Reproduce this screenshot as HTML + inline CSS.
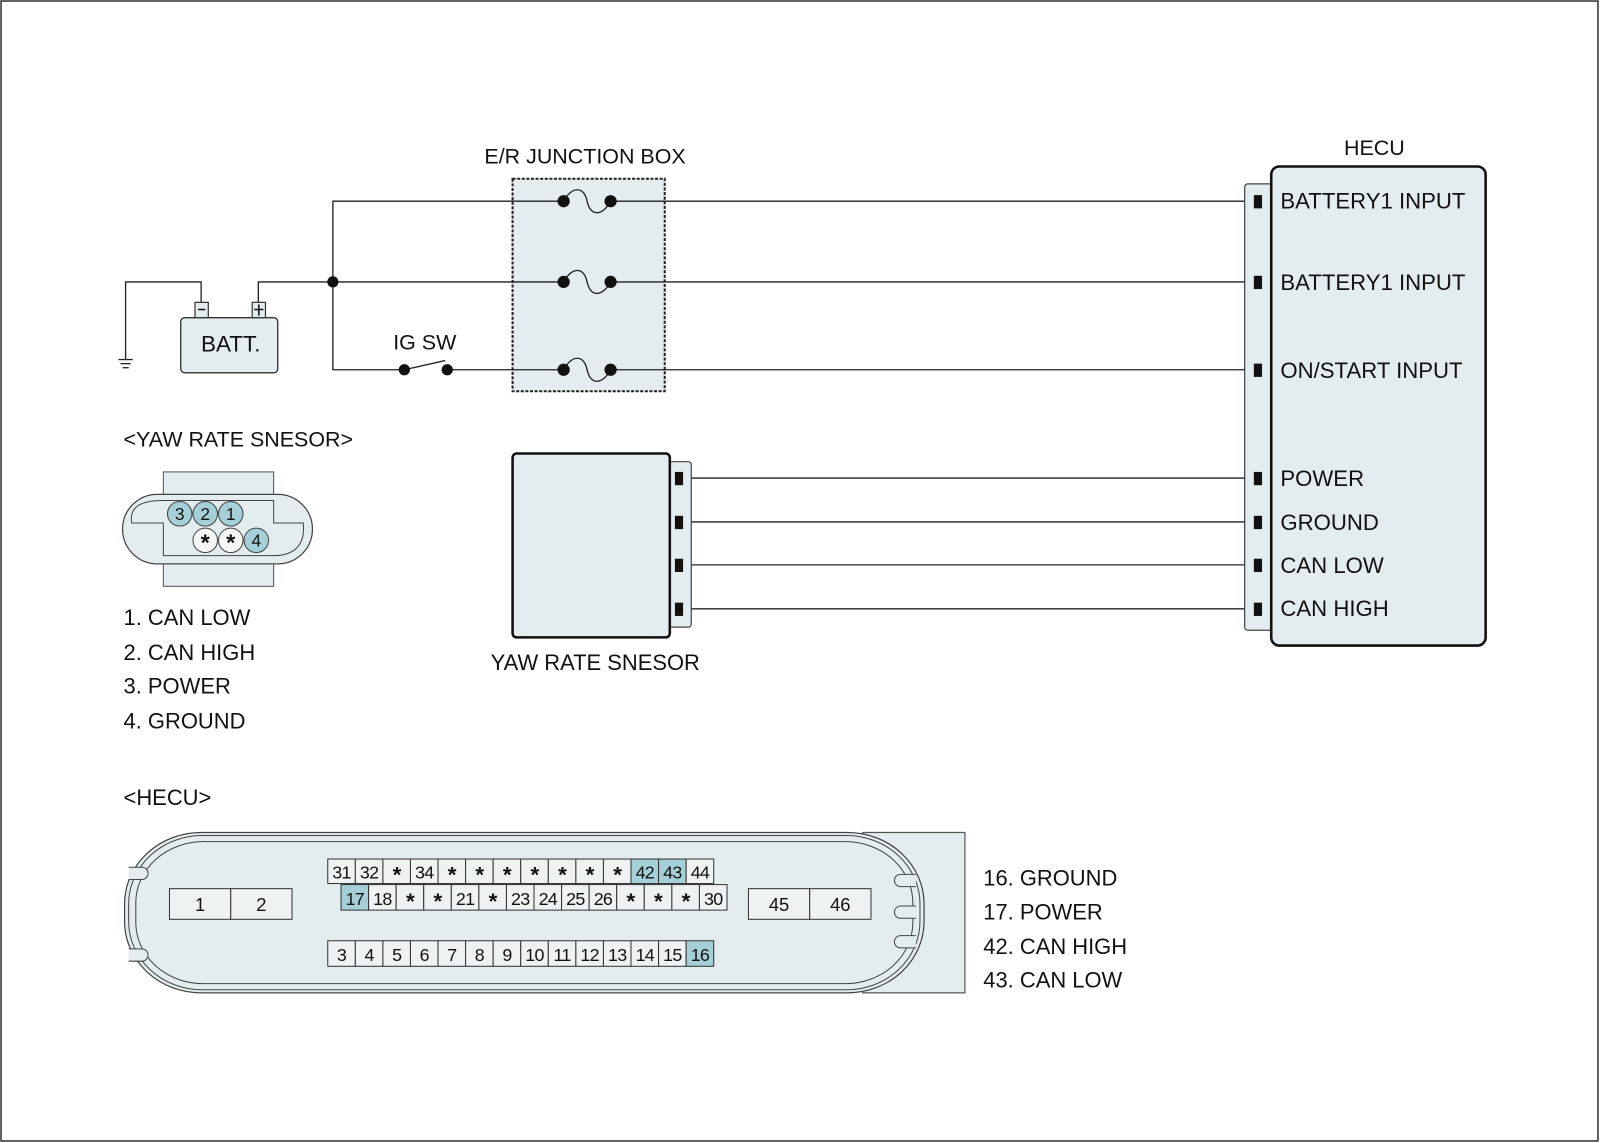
<!DOCTYPE html>
<html><head><meta charset="utf-8"><style>
html,body{margin:0;padding:0;background:#fff}
svg{display:block}
text{font-family:"Liberation Sans",Arial,sans-serif;fill:#111}
</style></head><body>
<svg width="1600" height="1143" viewBox="0 0 1567 1119" preserveAspectRatio="none" xmlns="http://www.w3.org/2000/svg">
<rect x="1" y="1" width="1564" height="1116" fill="#fff" stroke="#333" stroke-width="1.5"/>
<!-- junction box -->
<text x="573" y="160" font-size="21" text-anchor="middle">E/R JUNCTION BOX</text>
<rect x="502" y="175" width="149" height="208" fill="#e3ecee" stroke="#222" stroke-width="2" stroke-dasharray="3,1.5"/>
<g stroke="#222" stroke-width="1.3" fill="none">
<!-- wires -->
<polyline points="1232,197 598,197"/>
<polyline points="552,197 326,197 326,362 396,362"/>
<polyline points="253,296 253,276 552,276"/>
<polyline points="598,276 1232,276"/>
<polyline points="438,362 552,362"/>
<polyline points="598,362 1232,362"/>
<polyline points="197,296 197,276 123,276 123,352"/>
<line x1="116" y1="352" x2="130" y2="352"/>
<line x1="118" y1="356" x2="128" y2="356"/>
<line x1="120" y1="360" x2="126" y2="360"/>
<line x1="396" y1="362" x2="436" y2="353"/>
<line x1="669" y1="468" x2="1232" y2="468"/>
<line x1="669" y1="511" x2="1232" y2="511"/>
<line x1="669" y1="553" x2="1232" y2="553"/>
<line x1="669" y1="596" x2="1232" y2="596"/>
</g>
<!-- battery -->
<rect x="177" y="311" width="95" height="54" rx="4" fill="#e3ecee" stroke="#333" stroke-width="1.3"/>
<rect x="191" y="296" width="13" height="15" fill="#e3ecee" stroke="#333" stroke-width="1.2"/>
<rect x="247" y="296" width="13" height="15" fill="#e3ecee" stroke="#333" stroke-width="1.2"/>
<line x1="194" y1="303" x2="201" y2="303" stroke="#111" stroke-width="1.5"/>
<line x1="249" y1="303" x2="258" y2="303" stroke="#111" stroke-width="1.5"/>
<line x1="253.5" y1="298" x2="253.5" y2="309" stroke="#111" stroke-width="1.5"/>
<text x="226" y="344" font-size="22" text-anchor="middle">BATT.</text>
<circle cx="326" cy="276" r="5.5" fill="#111"/>
<circle cx="396" cy="362" r="5.5" fill="#111"/>
<circle cx="438" cy="362" r="5.5" fill="#111"/>
<text x="416" y="342" font-size="21" text-anchor="middle">IG SW</text>
<g fill="none" stroke="#222" stroke-width="1.3">
<path d="M552,197 C560,182 572,182 575,197 C578,212 590,212 598,197"/>
<path d="M552,276 C560,261 572,261 575,276 C578,291 590,291 598,276"/>
<path d="M552,362 C560,347 572,347 575,362 C578,377 590,377 598,362"/>
</g>
<g fill="#111">
<circle cx="552" cy="197" r="6"/><circle cx="598" cy="197" r="6"/>
<circle cx="552" cy="276" r="6"/><circle cx="598" cy="276" r="6"/>
<circle cx="552" cy="362" r="6"/><circle cx="598" cy="362" r="6"/>
</g>
<!-- HECU -->
<text x="1346" y="152" font-size="21" text-anchor="middle">HECU</text>
<rect x="1219" y="180" width="30" height="437" rx="3" fill="#e3ecee" stroke="#444" stroke-width="1.2"/>
<rect x="1245" y="163" width="210" height="469" rx="8" fill="#e3ecee" stroke="#111" stroke-width="2.5"/>
<g fill="#111">
<rect x="1228" y="191" width="8" height="13"/><rect x="1228" y="270" width="8" height="13"/>
<rect x="1228" y="356" width="8" height="13"/><rect x="1228" y="462" width="8" height="13"/>
<rect x="1228" y="505" width="8" height="13"/><rect x="1228" y="547" width="8" height="13"/>
<rect x="1228" y="590" width="8" height="13"/>
</g>
<g font-size="21.7">
<text x="1254" y="204">BATTERY1 INPUT</text>
<text x="1254" y="284">BATTERY1 INPUT</text>
<text x="1254" y="370">ON/START INPUT</text>
<text x="1254" y="476">POWER</text>
<text x="1254" y="519">GROUND</text>
<text x="1254" y="561">CAN LOW</text>
<text x="1254" y="603">CAN HIGH</text>
</g>
<!-- yaw sensor -->
<rect x="650" y="452" width="27" height="162" rx="3" fill="#e3ecee" stroke="#444" stroke-width="1.2"/>
<rect x="502" y="444" width="154" height="180" rx="4" fill="#e3ecee" stroke="#111" stroke-width="2.5"/>
<g fill="#111">
<rect x="661" y="462" width="8" height="13"/><rect x="661" y="505" width="8" height="13"/>
<rect x="661" y="547" width="8" height="13"/><rect x="661" y="590" width="8" height="13"/>
</g>
<text x="583" y="656" font-size="21.5" text-anchor="middle">YAW RATE SNESOR</text>
<!-- yaw connector -->
<text x="121" y="437" font-size="21">&lt;YAW RATE SNESOR&gt;</text>
<rect x="160" y="462" width="108" height="112" fill="#e3ecee" stroke="#555" stroke-width="1"/>
<rect x="120" y="484" width="186" height="68" rx="34" fill="#e3ecee" stroke="#444" stroke-width="1.2"/>
<path d="M160,490 L268,490 L268,512 L297,512 C300,540 280,544 268,544 L268,544 L160,544 L160,512 L129,512 C126,495 140,490 160,490 Z" fill="none" stroke="#444" stroke-width="1"/>
<g stroke="#444" stroke-width="1">
<circle cx="176" cy="503" r="12" fill="#a5d0d8"/>
<circle cx="201" cy="503" r="12" fill="#a5d0d8"/>
<circle cx="226" cy="503" r="12" fill="#a5d0d8"/>
<circle cx="201" cy="529" r="12" fill="#f5f7f7"/>
<circle cx="226" cy="529" r="12" fill="#f5f7f7"/>
<circle cx="251" cy="529" r="12" fill="#a5d0d8"/>
</g>
<g font-size="17" text-anchor="middle">
<text x="176" y="509">3</text><text x="201" y="509">2</text><text x="226" y="509">1</text>
<text x="251" y="535">4</text>
<text x="201" y="539" font-size="23" font-weight="bold">*</text><text x="226" y="539" font-size="23" font-weight="bold">*</text>
</g>
<g font-size="21.5">
<text x="121" y="612">1. CAN LOW</text>
<text x="121" y="646">2. CAN HIGH</text>
<text x="121" y="679">3. POWER</text>
<text x="121" y="713">4. GROUND</text>
<text x="121" y="788">&lt;HECU&gt;</text>
<text x="963" y="867">16. GROUND</text>
<text x="963" y="900">17. POWER</text>
<text x="963" y="934">42. CAN HIGH</text>
<text x="963" y="967">43. CAN LOW</text>
</g>
<!-- HECU connector -->
<rect x="845" y="815" width="100" height="157" fill="#e3ecee" stroke="#555" stroke-width="1.2"/>
<rect x="122" y="815" width="783" height="157" rx="75" ry="70" fill="#e3ecee" stroke="#444" stroke-width="1.2"/>
<rect x="126" y="818" width="775" height="151" rx="72" ry="67" fill="none" stroke="#444" stroke-width="1"/>
<rect x="133" y="824" width="761" height="139" rx="66" ry="60" fill="none" stroke="#444" stroke-width="1"/>
<g fill="#e3ecee" stroke="#444" stroke-width="1">
<path d="M126,849 L139,849 A6,6 0 0 1 139,861 L126,861"/>
<path d="M126,929 L139,929 A6,6 0 0 1 139,941 L126,941"/>
<path d="M897,856 L882,856 A6,6 0 0 0 882,868 L897,868"/>
<path d="M897,887 L882,887 A6,6 0 0 0 882,899 L897,899"/>
<path d="M897,916 L882,916 A6,6 0 0 0 882,928 L897,928"/>
</g>
<g stroke="#333" stroke-width="1" fill="#eef2f3">
<rect x="166" y="870" width="60" height="30"/><rect x="226" y="870" width="60" height="30"/>
<rect x="733" y="870" width="60" height="30"/><rect x="793" y="870" width="60" height="30"/>
</g>
<g font-size="18" text-anchor="middle">
<text x="196" y="892">1</text><text x="256" y="892">2</text>
<text x="763" y="892">45</text><text x="823" y="892">46</text>
</g>
<g stroke="#333" stroke-width="1" fill="#eef2f3">
<rect x="321" y="841" width="27" height="24"/><rect x="348" y="841" width="27" height="24"/><rect x="375" y="841" width="27" height="24"/><rect x="402" y="841" width="27" height="24"/><rect x="429" y="841" width="27" height="24"/><rect x="456" y="841" width="27" height="24"/><rect x="483" y="841" width="27" height="24"/><rect x="510" y="841" width="27" height="24"/><rect x="537" y="841" width="27" height="24"/><rect x="564" y="841" width="27" height="24"/><rect x="591" y="841" width="27" height="24"/><rect x="618" y="841" width="27" height="24" fill="#a5d0d8"/><rect x="645" y="841" width="27" height="24" fill="#a5d0d8"/><rect x="672" y="841" width="27" height="24"/>
<rect x="334" y="866" width="27" height="25" fill="#a5d0d8"/><rect x="361" y="866" width="27" height="25"/><rect x="388" y="866" width="27" height="25"/><rect x="415" y="866" width="27" height="25"/><rect x="442" y="866" width="27" height="25"/><rect x="469" y="866" width="27" height="25"/><rect x="496" y="866" width="27" height="25"/><rect x="523" y="866" width="27" height="25"/><rect x="550" y="866" width="27" height="25"/><rect x="577" y="866" width="27" height="25"/><rect x="604" y="866" width="27" height="25"/><rect x="631" y="866" width="27" height="25"/><rect x="658" y="866" width="27" height="25"/><rect x="685" y="866" width="27" height="25"/>
<rect x="321" y="921" width="27" height="25"/><rect x="348" y="921" width="27" height="25"/><rect x="375" y="921" width="27" height="25"/><rect x="402" y="921" width="27" height="25"/><rect x="429" y="921" width="27" height="25"/><rect x="456" y="921" width="27" height="25"/><rect x="483" y="921" width="27" height="25"/><rect x="510" y="921" width="27" height="25"/><rect x="537" y="921" width="27" height="25"/><rect x="564" y="921" width="27" height="25"/><rect x="591" y="921" width="27" height="25"/><rect x="618" y="921" width="27" height="25"/><rect x="645" y="921" width="27" height="25"/><rect x="672" y="921" width="27" height="25" fill="#a5d0d8"/>
</g>
<g font-size="17.5" text-anchor="middle" letter-spacing="-0.7">
<text x="334.5" y="860">31</text><text x="361.5" y="860">32</text><text x="388.5" y="864" font-size="22" font-weight="bold">*</text><text x="415.5" y="860">34</text><text x="442.5" y="864" font-size="22" font-weight="bold">*</text><text x="469.5" y="864" font-size="22" font-weight="bold">*</text><text x="496.5" y="864" font-size="22" font-weight="bold">*</text><text x="523.5" y="864" font-size="22" font-weight="bold">*</text><text x="550.5" y="864" font-size="22" font-weight="bold">*</text><text x="577.5" y="864" font-size="22" font-weight="bold">*</text><text x="604.5" y="864" font-size="22" font-weight="bold">*</text><text x="631.5" y="860">42</text><text x="658.5" y="860">43</text><text x="685.5" y="860">44</text>
<text x="347.5" y="886">17</text><text x="374.5" y="886">18</text><text x="401.5" y="890" font-size="22" font-weight="bold">*</text><text x="428.5" y="890" font-size="22" font-weight="bold">*</text><text x="455.5" y="886">21</text><text x="482.5" y="890" font-size="22" font-weight="bold">*</text><text x="509.5" y="886">23</text><text x="536.5" y="886">24</text><text x="563.5" y="886">25</text><text x="590.5" y="886">26</text><text x="617.5" y="890" font-size="22" font-weight="bold">*</text><text x="644.5" y="890" font-size="22" font-weight="bold">*</text><text x="671.5" y="890" font-size="22" font-weight="bold">*</text><text x="698.5" y="886">30</text>
<text x="334.5" y="941">3</text><text x="361.5" y="941">4</text><text x="388.5" y="941">5</text><text x="415.5" y="941">6</text><text x="442.5" y="941">7</text><text x="469.5" y="941">8</text><text x="496.5" y="941">9</text><text x="523.5" y="941">10</text><text x="550.5" y="941">11</text><text x="577.5" y="941">12</text><text x="604.5" y="941">13</text><text x="631.5" y="941">14</text><text x="658.5" y="941">15</text><text x="685.5" y="941">16</text>
</g>
</svg>
</body></html>
